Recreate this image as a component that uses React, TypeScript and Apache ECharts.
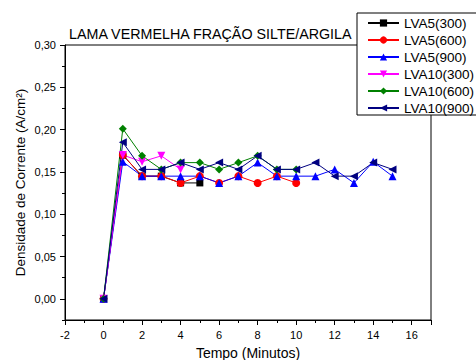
import React, { useEffect, useRef } from "react";
import * as echarts from "echarts";

const times = [0, 1, 2, 3, 4, 5, 6, 7, 8, 9, 10, 11, 12, 13, 14, 15];
const lva5_300 = [0, 0.17, 0.145, 0.145, 0.137, 0.137];
const lva5_600 = [0, 0.17, 0.145, 0.145, 0.137, 0.145, 0.137, 0.145, 0.137, 0.145, 0.137];
const lva5_900 = [0, 0.162, 0.145, 0.145, 0.145, 0.145, 0.137, 0.145, 0.161, 0.145, 0.145, 0.145, 0.153, 0.137, 0.162, 0.145];
const lva10_300 = [0, 0.17, 0.162, 0.169, 0.153];
const lva10_600 = [0, 0.201, 0.169, 0.153, 0.161, 0.161, 0.153, 0.161, 0.169, 0.153, 0.153];
const lva10_900 = [0, 0.185, 0.153, 0.153, 0.161, 0.153, 0.161, 0.153, 0.169, 0.153, 0.153, 0.161, 0.145, 0.145, 0.161, 0.153];

const seriesNames = ["LVA5(300)", "LVA5(600)", "LVA5(900)", "LVA10(300)", "LVA10(600)", "LVA10(900)"];
const xTicks = [-2, 0, 2, 4, 6, 8, 10, 12, 14, 16];
const yTicks = [0, 0.05, 0.1, 0.15, 0.2, 0.25, 0.3];

const FONT = "'Liberation Sans', Arial, sans-serif";

export default function App() {
  const ref = useRef<HTMLDivElement>(null);
  useEffect(() => {
    if (!ref.current) return;
    const chart = echarts.init(ref.current, null, { renderer: "svg" });
    const mk = (vals: number[]) => vals.map((v, i) => [times[i], v]);
    const defs = [
      { data: lva5_300, color: "#000000", symbol: "rect", size: 7, rot: 0 },
      { data: lva5_600, color: "#ff0000", symbol: "circle", size: 8, rot: 0 },
      { data: lva5_900, color: "#0000ff", symbol: "triangle", size: 8, rot: 0 },
      { data: lva10_300, color: "#ff00ff", symbol: "triangle", size: 8, rot: 180 },
      { data: lva10_600, color: "#008000", symbol: "diamond", size: 8, rot: 0 },
      { data: lva10_900, color: "#000080", symbol: "triangle", size: 8, rot: 90 },
    ];
    const series = defs.map((d, i) => ({
      name: seriesNames[i],
      type: "line",
      xAxisIndex: 0,
      yAxisIndex: 0,
      data: mk(d.data),
      symbol: d.symbol,
      symbolSize: d.size,
      symbolRotate: d.rot,
      showAllSymbol: true,
      lineStyle: { color: d.color, width: 1 },
      itemStyle: { color: d.color },
      emphasis: { disabled: true },
    }));
    chart.setOption({
      animation: false,
      textStyle: { fontFamily: FONT },
      title: {
        text: "LAMA VERMELHA FRAÇÃO SILTE/ARGILA",
        left: 69,
        top: 27,
        padding: 0,
        textStyle: { fontSize: 14.3, fontWeight: "normal", color: "#000", fontFamily: FONT },
      },
      legend: {
        orient: "vertical",
        left: 357,
        top: 13,
        padding: [3, 4, 0, 10],
        itemWidth: 31,
        itemHeight: 9,
        itemGap: 3,
        backgroundColor: "#fff",
        borderColor: "#000",
        borderWidth: 1,
        textStyle: { fontSize: 13.5, lineHeight: 14, color: "#000", fontFamily: FONT },
        data: seriesNames,
      },
      grid: [
        {
          left: 65, right: 45, top: 45, bottom: 40,
          show: true, borderColor: "#000", borderWidth: 1, backgroundColor: "transparent",
          outerBoundsMode: "none", containLabel: false,
        },
        {
          left: 65, right: 45, top: 45, height: 253.85, show: false,
          outerBoundsMode: "none", containLabel: false,
        },
      ],
      xAxis: [
        {
          type: "value",
          gridIndex: 0,
          min: -2,
          max: 17,
          interval: 2,
          axisLine: { onZero: false, lineStyle: { color: "#000", width: 1 } },
          axisTick: { show: true, length: 5, lineStyle: { color: "#000" } },
          minorTick: { show: true, splitNumber: 2, length: 3, lineStyle: { color: "#000" } },
          splitLine: { show: false },
          axisLabel: {
            fontSize: 11,
            color: "#000",
            margin: 9,
            fontFamily: FONT,
            formatter: (v: number) => (xTicks.includes(v) ? String(v) : ""),
          },
          name: "Tempo (Minutos)",
          nameLocation: "middle",
          nameGap: 26,
          nameTextStyle: { fontSize: 14, color: "#000", fontFamily: FONT },
        },
        { type: "value", gridIndex: 1, min: -2, max: 17, show: false, axisLine: { onZero: false } },
      ],
      yAxis: [
        {
          type: "value",
          gridIndex: 0,
          min: -0.025,
          max: 0.3,
          interval: 0.025,
          axisLine: { show: true, onZero: false, lineStyle: { color: "#000", width: 1 } },
          axisTick: { show: true, length: 3, lineStyle: { color: "#000" } },
          splitLine: { show: false },
          axisLabel: { show: false },
          name: "Densidade de Corrente (A/cm²)",
          nameLocation: "middle",
          nameGap: 38,
          nameTextStyle: { fontSize: 13.5, color: "#000", fontFamily: FONT },
        },
        {
          type: "value",
          gridIndex: 1,
          min: 0,
          max: 0.3,
          interval: 0.05,
          axisLine: { show: false, onZero: false },
          axisTick: { show: true, length: 5, lineStyle: { color: "#000" } },
          splitLine: { show: false },
          axisLabel: {
            fontSize: 11,
            color: "#000",
            margin: 9,
            fontFamily: FONT,
            formatter: (v: number) => {
              const m = yTicks.find((t) => Math.abs(t - v) < 1e-9);
              return m === undefined ? "" : m.toFixed(2).replace(".", ",");
            },
          },
        },
      ],
      series,
    });
    return () => chart.dispose();
  }, []);
  return <div ref={ref} style={{ width: 476, height: 360, position: "absolute", left: 0, top: 0, background: "#fff" }} />;
}
